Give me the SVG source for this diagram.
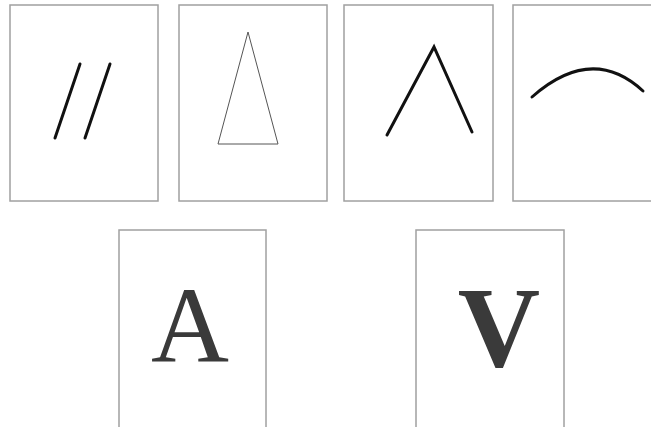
<svg xmlns="http://www.w3.org/2000/svg" width="651" height="427" viewBox="0 0 651 427">
<style>
.box{fill:#fff;stroke:#a0a0a0;stroke-width:1.5}
.thick{fill:none;stroke:#111;stroke-width:3;stroke-linecap:round;stroke-linejoin:miter}
.thin{fill:none;stroke:#555;stroke-width:1}
.glyph{font-family:"Liberation Serif",serif;fill:#3a3a3a;text-anchor:middle}
</style>
<rect width="651" height="427" fill="#fff"/>
<g id="panel1">
<rect class="box" x="10" y="5" width="148" height="196"/>
<line class="thick" x1="80" y1="64" x2="55" y2="138"/>
<line class="thick" x1="110" y1="64" x2="85" y2="138"/>
</g>
<g id="panel2">
<rect class="box" x="179" y="5" width="148" height="196"/>
<polygon class="thin" points="248,32 218,144 278,144"/>
</g>
<g id="panel3">
<rect class="box" x="344" y="5" width="149" height="196"/>
<polyline class="thick" points="387,135 434,47 472,132"/>
</g>
<g id="panel4">
<rect class="box" x="513" y="5" width="160" height="196"/>
<path class="thick" d="M532,97 Q592,44 643,91"/>
</g>
<g id="panel5">
<rect class="box" x="119" y="230" width="147" height="210"/>
<text class="glyph" x="190" y="362" font-size="108">A</text>
</g>
<g id="panel6">
<rect class="box" x="416" y="230" width="148" height="210"/>
<text class="glyph" x="499" y="366" font-size="114" font-weight="bold">V</text>
</g>
</svg>
